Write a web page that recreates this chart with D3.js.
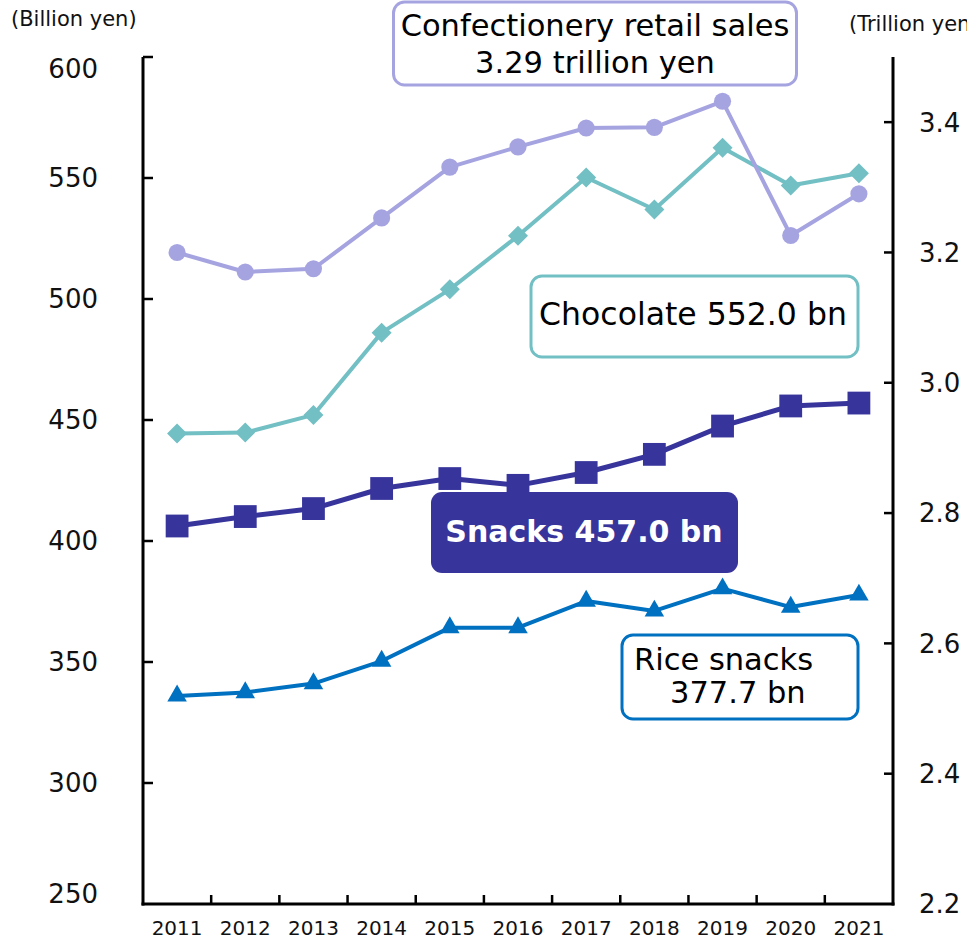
<!DOCTYPE html>
<html>
<head>
<meta charset="utf-8">
<script src="https://cdn.jsdelivr.net/npm/d3@7"></script>
<style>
  html, body { margin: 0; padding: 0; background: #fff; }
  svg { display: block; font-family: "DejaVu Sans", Verdana, sans-serif; }
</style>
</head>
<body>
<svg id="chart" width="967" height="939"></svg>
<script>
// Years on the x axis
const years = ["2011","2012","2013","2014","2015","2016","2017","2018","2019","2020","2021"];

// Confectionery retail sales, trillion yen (right axis)
const retailSales = [3.20, 3.17, 3.175, 3.253, 3.331, 3.362, 3.391, 3.392, 3.432, 3.226, 3.29];
// Chocolate, billion yen (left axis)
const chocolate = [444.4, 444.8, 452.1, 486.1, 504.0, 526.1, 550.2, 537.0, 562.5, 546.9, 552.0];
// Snacks, billion yen (left axis)
const snacks = [406.2, 410.1, 413.4, 421.7, 425.8, 423.0, 428.3, 435.8, 447.5, 455.8, 457.0];
// Rice snacks, billion yen (left axis)
const riceSnacks = [336.0, 337.4, 341.1, 350.4, 364.2, 364.2, 375.2, 371.1, 380.3, 372.7, 377.7];

// Axis ticks
const leftTicks = [250, 300, 350, 400, 450, 500, 550, 600];
const rightTicks = [2.2, 2.4, 2.6, 2.8, 3.0, 3.2, 3.4];

// Callout texts
const retailLabel = ["Confectionery retail sales", "3.29 trillion yen"];
const chocolateLabel = "Chocolate 552.0 bn";
const snacksLabel = "Snacks 457.0 bn";
const riceLabel = ["Rice snacks", "377.7 bn"];

(function () {
const svg = d3.select("#chart");
const plotL = 143, plotR = 893, plotT = 57, plotB = 904;

const x = d3.scaleBand().domain(years).range([plotL, plotR]).padding(0);
const yL = d3.scaleLinear().domain([250, 600]).range([plotB, plotT]);
const yR = d3.scaleLinear().domain([2.2, 3.5]).range([plotB, plotT]);
const cx = d => x(d) + x.bandwidth() / 2;

// ---- axes ----
const axisColor = "#000";
svg.append("line").attr("x1", plotL).attr("x2", plotL).attr("y1", plotT).attr("y2", plotB + 1.5)
  .attr("stroke", axisColor).attr("stroke-width", 3);
svg.append("line").attr("x1", plotR).attr("x2", plotR).attr("y1", plotT).attr("y2", plotB + 1.5)
  .attr("stroke", axisColor).attr("stroke-width", 3);
svg.append("line").attr("x1", plotL - 1.5).attr("x2", plotR + 1.5).attr("y1", plotB).attr("y2", plotB)
  .attr("stroke", axisColor).attr("stroke-width", 3);

// left ticks (inward) and labels
const gl = svg.append("g");
leftTicks.forEach(t => {
  const y = yL(t);
  if (t !== 250) gl.append("line").attr("x1", plotL).attr("x2", plotL + 10).attr("y1", y).attr("y2", y)
    .attr("stroke", axisColor).attr("stroke-width", 2.5);
  let dy = 0;
  if (t === 600) dy = 12;
  if (t === 250) dy = -10;
  gl.append("text").attr("x", 98).attr("y", y + dy).attr("dy", "0.36em")
    .attr("text-anchor", "end").attr("font-size", 26).attr("fill", "#111").text(t);
});

// right ticks (inward) and labels
const gr = svg.append("g");
rightTicks.forEach(t => {
  const y = yR(t);
  if (t !== 2.2) gr.append("line").attr("x1", plotR - 9).attr("x2", plotR).attr("y1", y).attr("y2", y)
    .attr("stroke", axisColor).attr("stroke-width", 2.5);
  gr.append("text").attr("x", 919).attr("y", y).attr("dy", "0.36em")
    .attr("text-anchor", "start").attr("font-size", 26).attr("fill", "#111").text(d3.format(".1f")(t));
});

// x ticks between categories, pointing up
years.slice(1).forEach(yr => {
  const xx = x(yr);
  svg.append("line").attr("x1", xx).attr("x2", xx).attr("y1", plotB).attr("y2", plotB - 9)
    .attr("stroke", axisColor).attr("stroke-width", 2.5);
});
years.forEach(yr => {
  svg.append("text").attr("x", cx(yr)).attr("y", 935).attr("text-anchor", "middle")
    .attr("font-size", 20).attr("fill", "#111").text(yr);
});

// unit labels
svg.append("text").attr("x", 11).attr("y", 26).attr("font-size", 21).attr("fill", "#111").text("(Billion yen)");
svg.append("text").attr("x", 849).attr("y", 31).attr("font-size", 21).attr("fill", "#111").text("(Trillion yen)");

// ---- series ----
function drawSeries(values, yScale, color, width, symbolType, size, rotate) {
  const g = svg.append("g");
  const line = d3.line().x((d, i) => cx(years[i])).y(d => yScale(d));
  g.append("path").datum(values).attr("d", line).attr("fill", "none")
    .attr("stroke", color).attr("stroke-width", width).attr("stroke-linejoin", "round");
  const sym = d3.symbol().type(symbolType).size(size);
  g.selectAll("path.m").data(values).enter().append("path").attr("class", "m")
    .attr("d", sym)
    .attr("transform", (d, i) => `translate(${cx(years[i])},${yScale(d)}) rotate(${rotate || 0})`)
    .attr("fill", color);
}

const cRetail = "#A6A4E0", cChoc = "#72BFC4", cSnack = "#37349B", cRice = "#0070C0";

drawSeries(chocolate, yL, cChoc, 4, d3.symbolSquare, 200, 45);
drawSeries(retailSales, yR, cRetail, 4, d3.symbolCircle, 230);
drawSeries(snacks, yL, cSnack, 5, d3.symbolSquare, 520);
drawSeries(riceSnacks, yL, cRice, 4, d3.symbolTriangle, 165);

// ---- callouts ----
function box(x0, y0, w, h, stroke, fill) {
  svg.append("rect").attr("x", x0).attr("y", y0).attr("width", w).attr("height", h)
    .attr("rx", 11).attr("ry", 11)
    .attr("fill", fill || "#fff").attr("stroke", stroke || "none").attr("stroke-width", fill ? 0 : 3);
}

box(393.5, 2, 403, 83, cRetail);
svg.append("text").attr("x", 595).attr("y", 36).attr("text-anchor", "middle").attr("font-size", 30.5)
  .attr("fill", "#000").text(retailLabel[0]);
svg.append("text").attr("x", 595).attr("y", 73).attr("text-anchor", "middle").attr("font-size", 30.5)
  .attr("fill", "#000").text(retailLabel[1]);

box(531, 276, 327, 81, cChoc);
svg.append("text").attr("x", 693).attr("y", 325).attr("text-anchor", "middle").attr("font-size", 31.5)
  .attr("fill", "#000").text(chocolateLabel);

box(431, 492, 307, 81, null, cSnack);
svg.append("text").attr("x", 584).attr("y", 542).attr("text-anchor", "middle").attr("font-size", 30)
  .attr("font-weight", "bold").attr("fill", "#fff").text(snacksLabel);

box(622, 635, 236, 84, cRice);
svg.append("text").attr("x", 634).attr("y", 670).attr("font-size", 30.5).attr("fill", "#000").text(riceLabel[0]);
svg.append("text").attr("x", 670).attr("y", 703).attr("font-size", 30.5).attr("fill", "#000").text(riceLabel[1]);
})();
</script>
</body>
</html>
